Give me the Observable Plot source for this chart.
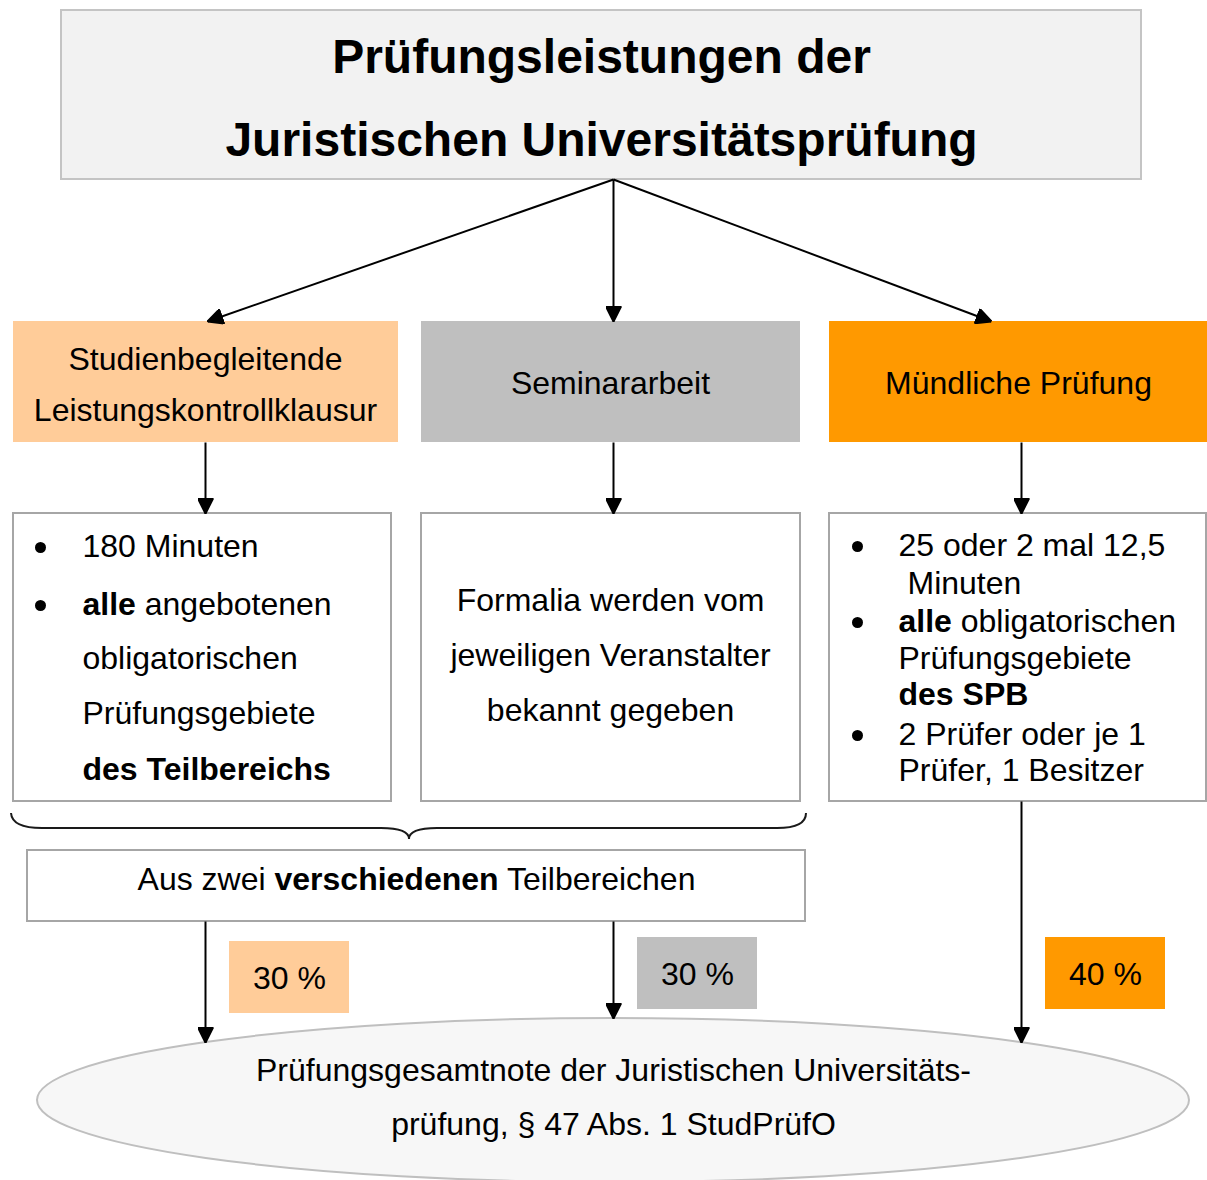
<!DOCTYPE html>
<html>
<head>
<meta charset="utf-8">
<script src="https://cdn.jsdelivr.net/npm/d3@7"></script>
<script src="https://cdn.jsdelivr.net/npm/@observablehq/plot@0.6"></script>
<style>
  html, body { margin: 0; padding: 0; background: #fff; overflow: hidden; }
  #chart svg { display: block; }
</style>
</head>
<body>
<div id="chart"></div>
<script>
// ---------- content ----------
const titleLines = ["Prüfungsleistungen der", "Juristischen Universitätsprüfung"];
const components = [
  ["Studienbegleitende", "Leistungskontrollklausur"],
  ["Seminararbeit"],
  ["Mündliche Prüfung"]
];
const weights = [30, 30, 40];
const klausurDetails = ["180 Minuten", "**alle** angebotenen", "obligatorischen", "Prüfungsgebiete", "**des Teilbereichs**"];
const klausurBullets = [0, 1];
const seminarDetails = ["Formalia werden vom", "jeweiligen Veranstalter", "bekannt gegeben"];
const muendlichDetails = ["25 oder 2 mal 12,5", "Minuten", "**alle** obligatorischen", "Prüfungsgebiete", "**des SPB**", "2 Prüfer oder je 1", "Prüfer, 1 Besitzer"];
const muendlichBullets = [0, 2, 5];
const selectionRule = "Aus zwei **verschiedenen** Teilbereichen";
const resultLines = ["Prüfungsgesamtnote der Juristischen Universitäts-", "prüfung, § 47 Abs. 1 StudPrüfO"];

// ---------- style ----------
const componentColors = ["#ffcc99", "#bfbfbf", "#ff9900"];
const FONT = "'Liberation Sans', Arial, Helvetica, sans-serif";
const W = 1207, H = 1180;

// ---------- layout ----------
const colX = [205, 613, 1021];
const compBox = [[13, 398], [421, 800], [829, 1207]];
const detailBox = [[13, 391], [421, 800], [829, 1206]];
const weightBox = [[229, 349, 941, 1013], [637, 757, 937, 1009], [1045, 1165, 937, 1009]];
const ell = {cx: 613, cy: 1100, rx: 576, ry: 82};

const boxes = [
  {x1: 61, x2: 1141, y1: 10, y2: 179, fill: "#f2f2f2", stroke: "#c4c4c4"},
  ...compBox.map(([a, b], i) => ({x1: a, x2: b, y1: 321, y2: 442, fill: componentColors[i], stroke: "none"})),
  ...detailBox.map(([a, b]) => ({x1: a, x2: b, y1: 513, y2: 801, fill: "#ffffff", stroke: "#a6a6a6"})),
  {x1: 27, x2: 805, y1: 850, y2: 921, fill: "#ffffff", stroke: "#a6a6a6"},
  ...weightBox.map(([a, b, c, d], i) => ({x1: a, x2: b, y1: c, y2: d, fill: componentColors[i], stroke: "none"}))
];

const ellipseY = x => ell.cy - ell.ry * Math.sqrt(1 - ((x - ell.cx) / ell.rx) ** 2);
const arrows = [
  {x1: 613, y1: 179, x2: 207, y2: 321},
  {x1: 613, y1: 179, x2: 613, y2: 321},
  {x1: 613, y1: 179, x2: 991, y2: 321},
  ...colX.map(x => ({x1: x, y1: 442, x2: x, y2: 513})),
  {x1: colX[0], y1: 921, x2: colX[0], y2: ellipseY(colX[0])},
  {x1: colX[1], y1: 921, x2: colX[1], y2: ellipseY(colX[1])},
  {x1: colX[2], y1: 801, x2: colX[2], y2: ellipseY(colX[2])}
];

const klausurY = [546, 604, 658, 713, 769];
const seminarY = [600, 655, 710];
const muendlichY = [545, 583, 621, 658, 694, 734, 770];
const muendlichX = [898, 907, 898, 898, 898, 898, 898];

const startTexts = [
  ...klausurDetails.map((t, i) => ({x: 82, y: klausurY[i], text: t})),
  ...muendlichDetails.map((t, i) => ({x: muendlichX[i], y: muendlichY[i], text: t}))
];
const middleTexts = [
  {x: 205, y: 359, text: components[0][0]},
  {x: 205, y: 410, text: components[0][1]},
  {x: 610, y: 383, text: components[1][0]},
  {x: 1018, y: 383, text: components[2][0]},
  ...seminarDetails.map((t, i) => ({x: 610, y: seminarY[i], text: t})),
  {x: 416, y: 879, text: selectionRule},
  ...weights.map((w, i) => ({x: (weightBox[i][0] + weightBox[i][1]) / 2, y: (weightBox[i][2] + weightBox[i][3]) / 2 + 1, text: `${w} %`})),
  {x: 613, y: 1070, text: resultLines[0]},
  {x: 613, y: 1124, text: resultLines[1]}
];
const titleTexts = titleLines.map((t, i) => ({x: 601, y: [57, 140][i], text: t}));

const bullets = [
  ...klausurBullets.map(i => ({x: 40, y: klausurY[i] + 1})),
  ...muendlichBullets.map(i => ({x: 857, y: muendlichY[i] + 1}))
];

// ---------- helpers ----------
const NS = "http://www.w3.org/2000/svg";
function filledArrow(color, context) {
  const doc = (context && context.document) || document;
  const m = doc.createElementNS(NS, "marker");
  m.setAttribute("viewBox", "-16 -8 16 16");
  m.setAttribute("markerWidth", 16);
  m.setAttribute("markerHeight", 16);
  m.setAttribute("markerUnits", "userSpaceOnUse");
  m.setAttribute("refX", 0);
  m.setAttribute("refY", 0);
  m.setAttribute("orient", "auto");
  const p = doc.createElementNS(NS, "path");
  p.setAttribute("d", "M0,0L-15,-7.5L-15,7.5Z");
  p.setAttribute("fill", color);
  m.appendChild(p);
  return m;
}

function ellipseMark(index, scales) {
  const sx = (scales && scales.x) || (v => v), sy = (scales && scales.y) || (v => v);
  const e = document.createElementNS(NS, "ellipse");
  e.setAttribute("cx", sx(ell.cx));
  e.setAttribute("cy", sy(ell.cy));
  e.setAttribute("rx", Math.abs(sx(ell.cx + ell.rx) - sx(ell.cx)));
  e.setAttribute("ry", Math.abs(sy(ell.cy + ell.ry) - sy(ell.cy)));
  e.setAttribute("fill", "#f7f7f7");
  e.setAttribute("stroke", "#bfbfbf");
  e.setAttribute("stroke-width", 2);
  return e;
}

function braceMark(index, scales) {
  const sx = (scales && scales.x) || (v => v), sy = (scales && scales.y) || (v => v);
  const P = (x, y) => `${sx(x)},${sy(y)}`;
  const d = `M${P(11, 813)}Q${P(12, 828)} ${P(42, 828)}L${P(381, 828)}Q${P(409, 828)} ${P(409, 839)}` +
            `Q${P(409, 828)} ${P(437, 828)}L${P(777, 828)}Q${P(806, 828)} ${P(806, 813)}`;
  const p = document.createElementNS(NS, "path");
  p.setAttribute("d", d);
  p.setAttribute("fill", "none");
  p.setAttribute("stroke", "#1a1a1a");
  p.setAttribute("stroke-width", 2);
  return p;
}

// ---------- plot ----------
const chart = Plot.plot({
  width: W,
  height: H,
  margin: 0,
  x: {domain: [0, W], range: [0, W], axis: null},
  y: {domain: [0, H], range: [0, H], axis: null},
  color: {type: "identity"},
  style: {background: "#ffffff", fontFamily: FONT, overflow: "visible"},
  marks: [
    Plot.rect(boxes, {x1: "x1", x2: "x2", y1: "y1", y2: "y2", fill: "fill", stroke: "stroke", strokeWidth: 2}),
    ellipseMark,
    braceMark,
    Plot.link(arrows, {x1: "x1", y1: "y1", x2: "x2", y2: "y2", stroke: "#000", strokeWidth: 2, markerEnd: filledArrow}),
    Plot.dot(bullets, {x: "x", y: "y", r: 5.5, fill: "#000", stroke: "none"}),
    Plot.text(titleTexts, {x: "x", y: "y", text: "text", fontSize: 48, fontWeight: "bold", fontFamily: FONT, fill: "#000", textAnchor: "middle"}),
    Plot.text(middleTexts, {x: "x", y: "y", text: "text", fontSize: 32, fontFamily: FONT, fill: "#000", textAnchor: "middle"}),
    Plot.text(startTexts, {x: "x", y: "y", text: "text", fontSize: 32, fontFamily: FONT, fill: "#000", textAnchor: "start"})
  ]
});

// rich text: **bold** segments become bold tspans
chart.querySelectorAll("text").forEach(node => {
  const s = node.textContent;
  if (!s.includes("**")) return;
  node.textContent = "";
  s.split("**").forEach((part, k) => {
    if (!part) return;
    const t = document.createElementNS(NS, "tspan");
    if (k % 2 === 1) t.setAttribute("font-weight", "bold");
    t.textContent = part;
    node.appendChild(t);
  });
});

document.getElementById("chart").appendChild(chart);
</script>
</body>
</html>
